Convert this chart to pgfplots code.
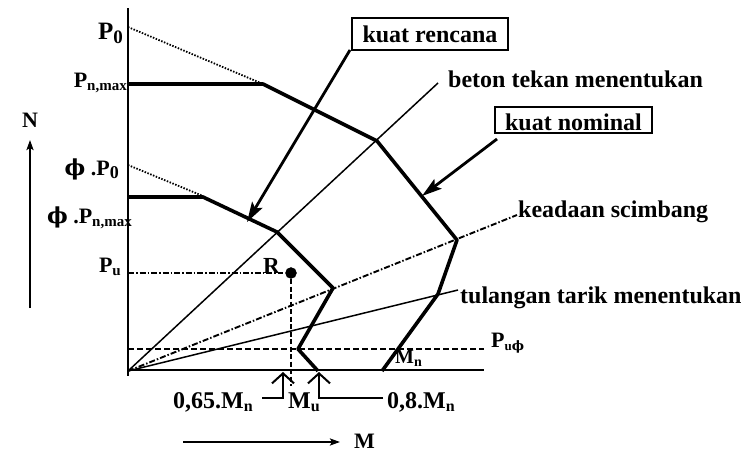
\documentclass[border=0pt]{standalone}
\usepackage{pgfplots}
\pgfplotsset{compat=1.18}
\usetikzlibrary{arrows.meta}
\usepackage{fontspec}
\setmainfont{Liberation Serif}
\newfontfamily\greekfont{DejaVu Serif}

% text size helper (sizes in pt, the drawing is 749pt x 453pt)
\newcommand{\fs}[1]{\fontsize{#1}{#1}\selectfont\bfseries}
\newcommand{\sub}[2]{\raisebox{-0.35ex}{\fontsize{#1}{#1}\selectfont\bfseries #2}}
\newcommand{\ph}{{\greekfont\bfseries ϕ}}

\begin{document}
\begin{tikzpicture}
\begin{axis}[
  scale only axis, width=749pt, height=453pt,
  xmin=0, xmax=749, ymin=0, ymax=453, y dir=reverse,
  hide axis, clip=false,
  every axis plot/.append style={black, mark=none},
]
\path (axis cs:0,0) rectangle (axis cs:749,453);

% axes of the diagram
\addplot[line width=2.4pt] coordinates {(128,8) (128,376)};
\addplot[line width=2.4pt] coordinates {(128,370) (484,370)};

% P_u phi level
\addplot[line width=1.8pt, dash pattern=on 6pt off 3pt] coordinates {(128,349) (484,349)};

% dotted extensions to P0 and phi.P0
\addplot[line width=1.8pt, dash pattern=on 1.5pt off 1.5pt] coordinates {(128,27) (263,84)};
\addplot[line width=1.8pt, dash pattern=on 1.5pt off 1.5pt] coordinates {(128,165) (203,196)};

% nominal strength curve
\addplot[line width=3.6pt, line join=round] coordinates {
  (128,84) (263,84) (377,141) (457,240) (438,294) (382,371)};

% design strength curve
\addplot[line width=3.6pt, line join=round] coordinates {
  (128,197) (203,197) (277,232) (333,288) (298,349) (318,371)};

% failure regions from the origin
\addplot[line width=1.5pt] coordinates {(128,371) (438,83)};
\addplot[line width=1.9pt, dash pattern=on 6pt off 2pt on 1.5pt off 2pt] coordinates {(128,371) (517,215)};
\addplot[line width=1.5pt] coordinates {(128,371) (458,290)};

% load point R
\addplot[line width=1.9pt, dash pattern=on 6pt off 2pt on 1.5pt off 2pt] coordinates {(128,273) (283,273)};
\addplot[line width=1.9pt, dash pattern=on 5pt off 2.5pt] coordinates {(291,279) (291,386)};
\addplot[only marks, mark=*, mark size=5.5pt] coordinates {(291,273)};

% pointers to the curves
\addplot[line width=2.8pt, -{Stealth[length=20pt,width=12pt,inset=4pt]}] coordinates {(350,50) (247,222)};
\addplot[line width=2.8pt, -{Stealth[length=20pt,width=12pt,inset=4pt]}] coordinates {(497,139) (422,196)};

% direction arrows N and M
\addplot[line width=2.4pt, -{Stealth[length=10pt,width=7pt,inset=2pt]}] coordinates {(30,308) (30,140)};
\addplot[line width=2pt, -{Stealth[length=10pt,width=7pt,inset=2pt]}] coordinates {(183,442) (340,442)};

% moment limits
\addplot[line width=1.8pt, -{Straight Barb[length=10pt,width=22pt,line width=2pt]}] coordinates {(262,398) (283,398) (283,372)};
\addplot[line width=1.8pt, -{Straight Barb[length=10pt,width=22pt,line width=2pt]}] coordinates {(383,398) (319,398) (319,372)};

% boxed labels
\draw[line width=2pt] (axis cs:352,18) rectangle (axis cs:508,50);
\draw[line width=2pt] (axis cs:495,107) rectangle (axis cs:652,133);
\node[anchor=base, inner sep=0] at (axis cs:430,42) {\fs{24}kuat rencana};
\node[anchor=base, inner sep=0] at (axis cs:573.5,130) {\fs{24}kuat nominal};

% region labels
\node[anchor=base west, inner sep=0] at (axis cs:448,87) {\fs{24}beton tekan menentukan};
\node[anchor=base west, inner sep=0] at (axis cs:518,217) {\fs{24}keadaan scimbang};
\node[anchor=base west, inner sep=0] at (axis cs:460,303) {\fs{24}tulangan tarik menentukan};

% load levels on the N side
\node[anchor=base east, inner sep=0] at (axis cs:123,39) {\fs{25}P\sub{19}{0}};
\node[anchor=base east, inner sep=0] at (axis cs:127,87) {\fs{22}P\sub{15}{n,max}};
\node[anchor=base east, inner sep=0] at (axis cs:119,175) {\fs{22}\ph\ .P\sub{18}{0}};
\node[anchor=base east, inner sep=0] at (axis cs:132,223) {\fs{22}\ph\ .P\sub{15}{n,max}};
\node[anchor=base east, inner sep=0] at (axis cs:121,272) {\fs{22}P\sub{15}{u}};
\node[anchor=base west, inner sep=0] at (axis cs:263,273) {\fs{23}R};
\node[anchor=base west, inner sep=0] at (axis cs:491,347) {\fs{22}P\sub{13}{u\ph}};
\node[anchor=base west, inner sep=0] at (axis cs:395,363) {\fs{20}M\sub{14}{n}};

% moment labels
\node[anchor=base west, inner sep=0] at (axis cs:173,408) {\fs{24}0,65.M\sub{16}{n}};
\node[anchor=base west, inner sep=0] at (axis cs:288,408) {\fs{24}M\sub{16}{u}};
\node[anchor=base west, inner sep=0] at (axis cs:387,408) {\fs{24}0,8.M\sub{16}{n}};

\node[anchor=base, inner sep=0] at (axis cs:30,127) {\fs{22}N};
\node[anchor=base west, inner sep=0] at (axis cs:354,448) {\fs{22}M};
\end{axis}
\end{tikzpicture}
\end{document}
